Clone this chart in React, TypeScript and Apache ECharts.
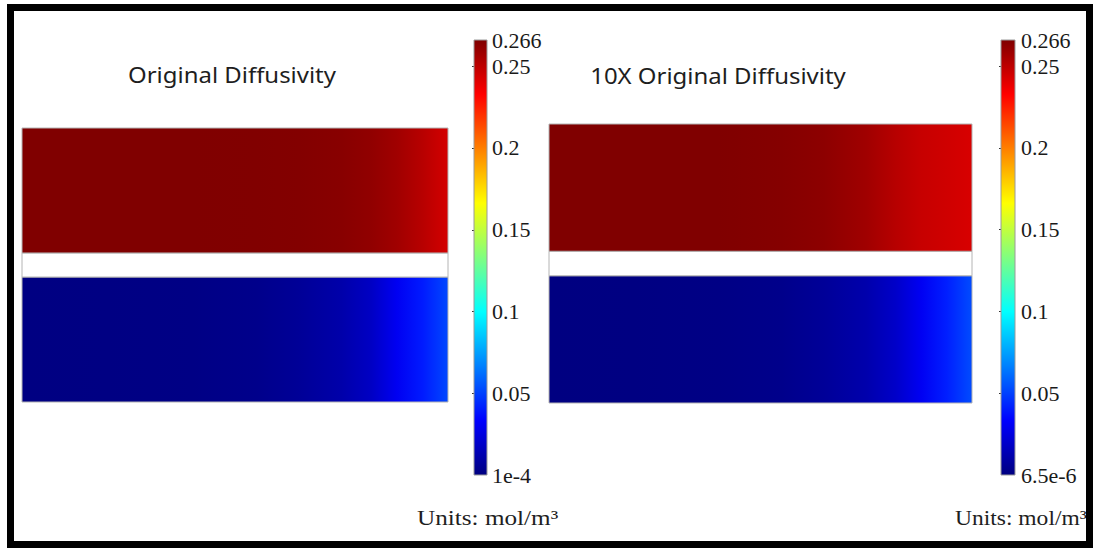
import React, { useEffect, useRef } from "react";
import * as echarts from "echarts";

// ---- data ----
const PANEL_TITLES = ["Original Diffusivity", "10X Original Diffusivity"];
const UNITS_TEXT = "Units: mol/m³";

// colour scale (rainbow / jet), evenly spaced stops from min to max
const JET = ["#000080", "#0000ff", "#0080ff", "#00ffff", "#80ff80", "#ffff00", "#ff8000", "#ff0000", "#800000"];

const CB_MIN = [1e-4, 6.5e-6];
const CB_MAX = [0.266, 0.266];
const CB_TICKS_1 = [1e-4, 0.05, 0.1, 0.15, 0.2, 0.25, 0.266];
const CB_LABELS_1 = ["1e-4", "0.05", "0.1", "0.15", "0.2", "0.25", "0.266"];
const CB_TICKS_2 = [6.5e-6, 0.05, 0.1, 0.15, 0.2, 0.25, 0.266];
const CB_LABELS_2 = ["6.5e-6", "0.05", "0.1", "0.15", "0.2", "0.25", "0.266"];

// domain layers (model units, bottom to top)
const LAYER_NAMES = ["bottom", "membrane", "top"];
const LAYER_Y0 = [0, 5.2, 6.2];
const LAYER_Y1 = [5.2, 6.2, 11.4];
const DOMAIN_HEIGHT = 11.4;

// concentration profiles along the length (normalised position 0..1)
const PROFILE_X = [0, 0.2, 0.4, 0.55, 0.65, 0.75, 0.82, 0.88, 0.94, 1];
const TOP_1 = [0.266, 0.266, 0.266, 0.2658, 0.2652, 0.2638, 0.2615, 0.2575, 0.2515, 0.244];
const BOT_1 = [0.0005, 0.0008, 0.0015, 0.003, 0.006, 0.011, 0.018, 0.03, 0.04, 0.052];
const TOP_2 = [0.266, 0.266, 0.2659, 0.2648, 0.2625, 0.2575, 0.2515, 0.2475, 0.2452, 0.243];
const BOT_2 = [0.0003, 0.0006, 0.0013, 0.003, 0.0062, 0.0115, 0.019, 0.03, 0.041, 0.053];

const PROFILES = [
  { top: TOP_1, bottom: BOT_1 },
  { top: TOP_2, bottom: BOT_2 },
];

function jet(v: number, min: number, max: number) {
  const t = Math.min(1, Math.max(0, (v - min) / (max - min)));
  return echarts.color.lerp(t, JET) as string;
}

function domainSeries(panel: number, xAxisIndex: number, yAxisIndex: number) {
  const prof = PROFILES[panel];
  const min = CB_MIN[panel];
  const max = CB_MAX[panel];
  return {
    type: "custom",
    xAxisIndex,
    yAxisIndex,
    clip: false,
    silent: true,
    data: LAYER_NAMES.map((_, i) => [LAYER_Y0[i], LAYER_Y1[i], i]),
    renderItem: (params: any, api: any) => {
      const y0 = api.value(0);
      const y1 = api.value(1);
      const idx = api.value(2);
      const tl = api.coord([0, y1]);
      const br = api.coord([1, y0]);
      const name = LAYER_NAMES[idx];
      const values = name === "top" ? prof.top : name === "bottom" ? prof.bottom : null;
      const fill = values
        ? new echarts.graphic.LinearGradient(
            0, 0, 1, 0,
            PROFILE_X.map((x, k) => ({ offset: x, color: jet(values[k], min, max) }))
          )
        : "#ffffff";
      return {
        type: "rect",
        shape: { x: tl[0], y: tl[1], width: br[0] - tl[0], height: br[1] - tl[1] },
        style: { fill, stroke: "#b4b4b4", lineWidth: 1 },
      };
    },
  };
}

function colorbarSeries(panel: number, xAxisIndex: number, yAxisIndex: number) {
  return {
    type: "custom",
    xAxisIndex,
    yAxisIndex,
    clip: false,
    silent: true,
    z: 1,
    data: [[CB_MIN[panel], CB_MAX[panel]]],
    renderItem: (params: any, api: any) => {
      const tl = api.coord([0, api.value(1)]);
      const br = api.coord([1, api.value(0)]);
      return {
        type: "rect",
        shape: { x: tl[0], y: tl[1], width: br[0] - tl[0], height: br[1] - tl[1] },
        style: {
          fill: new echarts.graphic.LinearGradient(
            0, 1, 0, 0,
            JET.map((c, i) => ({ offset: i / (JET.length - 1), color: c }))
          ),
          stroke: "#9a9a9a",
          lineWidth: 1,
        },
      };
    },
  };
}

function cbAxes(panel: number, gridIndex: number, ticks: number[], labels: string[], margin: number) {
  const fmt = (v: number) => {
    const i = ticks.findIndex((t) => Math.abs(t - v) < 1e-9);
    return i >= 0 ? labels[i] : "";
  };
  const common = {
    type: "value",
    gridIndex,
    min: CB_MIN[panel],
    max: CB_MAX[panel],
    axisLine: { show: false },
    splitLine: { show: false },
  };
  return [
    {
      ...common,
      position: "right",
      axisTick: { show: true, inside: true, length: 2, customValues: ticks.slice(1, -1), lineStyle: { color: "#333" } },
      axisLabel: {
        show: true,
        customValues: ticks,
        formatter: fmt,
        margin,
        color: "#1a1a1a",
        fontFamily: "Liberation Serif",
        fontSize: 22,
      },
    },
    {
      ...common,
      position: "left",
      axisTick: { show: true, inside: true, length: 2, customValues: ticks.slice(1, -1), lineStyle: { color: "#333" } },
      axisLabel: { show: false },
    },
  ];
}

function textEl(text: string, x: number, y: number, align: string, font: string, size: number, sx: number) {
  return {
    type: "text",
    x,
    y,
    scaleX: sx,
    style: {
      text,
      align,
      verticalAlign: "middle",
      fontFamily: font,
      fontSize: size,
      fill: "#1e1e1e",
    },
  };
}

export default function App() {
  const ref = useRef<HTMLDivElement>(null);
  useEffect(() => {
    if (!ref.current) return;
    const chart = echarts.init(ref.current, null, { renderer: "svg" });
    const hiddenX = (gridIndex: number) => ({ type: "value", gridIndex, min: 0, max: 1, show: false });
    const option: any = {
      animation: false,
      backgroundColor: "#ffffff",
      grid: [
        { left: 22, top: 128, width: 426, height: 274, outerBoundsMode: "none" },
        { left: 474, top: 40, width: 13, height: 435, outerBoundsMode: "none" },
        { left: 549, top: 124, width: 423, height: 279, outerBoundsMode: "none" },
        { left: 1001, top: 40, width: 14, height: 435, outerBoundsMode: "none" },
      ],
      xAxis: [hiddenX(0), hiddenX(1), hiddenX(2), hiddenX(3)],
      yAxis: [
        { type: "value", gridIndex: 0, min: 0, max: DOMAIN_HEIGHT, show: false },
        ...cbAxes(0, 1, CB_TICKS_1, CB_LABELS_1, 5),
        { type: "value", gridIndex: 2, min: 0, max: DOMAIN_HEIGHT, show: false },
        ...cbAxes(1, 3, CB_TICKS_2, CB_LABELS_2, 6),
      ],
      series: [
        domainSeries(0, 0, 0),
        colorbarSeries(0, 1, 1),
        domainSeries(1, 2, 3),
        colorbarSeries(1, 3, 4),
      ],
      graphic: [
        {
          type: "rect",
          shape: { x: 10.5, y: 7.5, width: 1079, height: 537 },
          style: { fill: "none", stroke: "#000000", lineWidth: 7 },
          z: 10,
        },
        textEl(PANEL_TITLES[0], 232, 75, "center", "Noto Sans", 21, 1.14),
        textEl(PANEL_TITLES[1], 718, 76, "center", "Noto Sans", 21, 1.14),
        textEl(UNITS_TEXT, 417, 518, "left", "Liberation Serif", 21, 1.2),
        textEl(UNITS_TEXT, 955, 518, "left", "Liberation Serif", 21, 1.12),
      ],
    };
    chart.setOption(option);
    return () => chart.dispose();
  }, []);
  return (
    <div
      ref={ref}
      style={{ position: "fixed", left: 0, top: 0, width: 1094, height: 548 }}
    />
  );
}
